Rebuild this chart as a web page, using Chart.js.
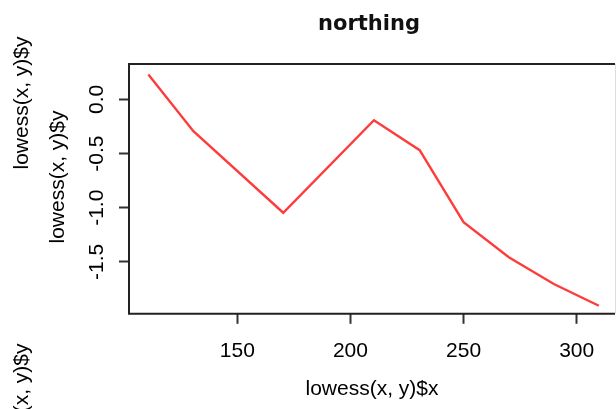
<!DOCTYPE html>
<html>
<head>
<meta charset="utf-8">
<script src="https://cdn.jsdelivr.net/npm/chart.js@4/dist/chart.umd.min.js"></script>
<style>
  html, body { margin: 0; padding: 0; background: #fff; overflow: hidden; }
  #wrap { width: 616px; height: 409px; position: relative; }
</style>
</head>
<body>
<div id="wrap"><canvas id="myChart"></canvas></div>
<script>
/*====== data =======*/
const xVals = [110.7, 130.6, 170.3, 210.4, 230.6, 250.0, 270.0, 289.9, 309.8];
const yVals = [0.231, -0.293, -1.046, -0.192, -0.469, -1.133, -1.457, -1.704, -1.905];

const xTicks = [150, 200, 250, 300];
const yTicks = [0, -0.5, -1, -1.5];
const yTickLabels = ['0.0', '-0.5', '-1.0', '-1.5'];

const mainTitle = 'northing';
const xTitle = 'lowess(x, y)$x';
const yTitle = 'lowess(x, y)$y';

const points = xVals.map((x, i) => ({ x: x, y: yVals[i] }));

const labelFont = '"Liberation Sans", Arial, sans-serif';

/*====== box, rotated y labels and titles =======*/
const rFrame = {
  id: 'rFrame',
  afterDraw(chart) {
    const ctx = chart.ctx;
    const a = chart.chartArea;
    const ys = chart.scales.y;

    ctx.save();
    // plot box
    ctx.strokeStyle = '#222';
    ctx.lineWidth = 2;
    ctx.beginPath();
    ctx.moveTo(a.right, a.top);
    ctx.lineTo(a.left, a.top);
    ctx.lineTo(a.left, a.bottom);
    ctx.lineTo(a.right, a.bottom);
    ctx.stroke();
    ctx.strokeStyle = '#ddd';
    ctx.lineWidth = 1;
    ctx.beginPath();
    ctx.moveTo(a.right + 0.5, a.top);
    ctx.lineTo(a.right + 0.5, a.bottom);
    ctx.stroke();

    // y tick labels, turned like R's las=0
    ctx.fillStyle = '#000';
    ctx.font = '21px ' + labelFont;
    ctx.textAlign = 'center';
    ctx.textBaseline = 'middle';
    yTicks.forEach((v, i) => {
      const py = ys.getPixelForValue(v);
      ctx.save();
      ctx.translate(97, py);
      ctx.rotate(-Math.PI / 2);
      ctx.fillText(yTickLabels[i], 0, 0);
      ctx.restore();
    });

    // axis titles
    ctx.fillText(xTitle, 372, 389);
    [[22, 103], [58, 177], [22, 410]].forEach(p => {
      ctx.save();
      ctx.translate(p[0], p[1]);
      ctx.rotate(-Math.PI / 2);
      ctx.fillText(yTitle, 0, 0);
      ctx.restore();
    });

    // main title
    ctx.font = 'bold 21px "DejaVu Sans", Verdana, sans-serif';
    ctx.fillStyle = '#111';
    ctx.fillText(mainTitle, 369, 25);
    ctx.restore();
  }
};

/*====== chart =======*/
const config = {
  type: 'line',
  data: {
    datasets: [{
      data: points,
      borderColor: 'rgb(255, 60, 60)',
      borderWidth: 2.4,
      pointRadius: 0,
      tension: 0,
      fill: false
    }]
  },
  options: {
    responsive: true,
    maintainAspectRatio: false,
    animation: false,
    events: [],
    layout: { padding: { left: 119, top: 64, right: 1, bottom: 30 } },
    plugins: { legend: { display: false }, tooltip: { enabled: false } },
    scales: {
      x: {
        type: 'linear',
        min: 102.14,
        max: 316.93,
        afterBuildTicks: axis => { axis.ticks = xTicks.map(v => ({ value: v })); },
        border: { display: false },
        grid: {
          drawOnChartArea: false,
          drawTicks: true,
          tickLength: 10,
          tickWidth: 2,
          tickColor: '#333'
        },
        ticks: {
          color: '#000',
          padding: 15,
          maxRotation: 0,
          autoSkip: false,
          font: { family: labelFont, size: 21 }
        }
      },
      y: {
        type: 'linear',
        min: -1.979,
        max: 0.327,
        afterBuildTicks: axis => { axis.ticks = yTicks.map(v => ({ value: v })); },
        border: { display: false },
        grid: {
          drawOnChartArea: false,
          drawTicks: true,
          tickLength: 10,
          tickWidth: 2,
          tickColor: '#333'
        },
        ticks: { display: false }
      }
    }
  },
  plugins: [rFrame]
};

const myChart = new Chart(document.getElementById('myChart'), config);
</script>
</body>
</html>
